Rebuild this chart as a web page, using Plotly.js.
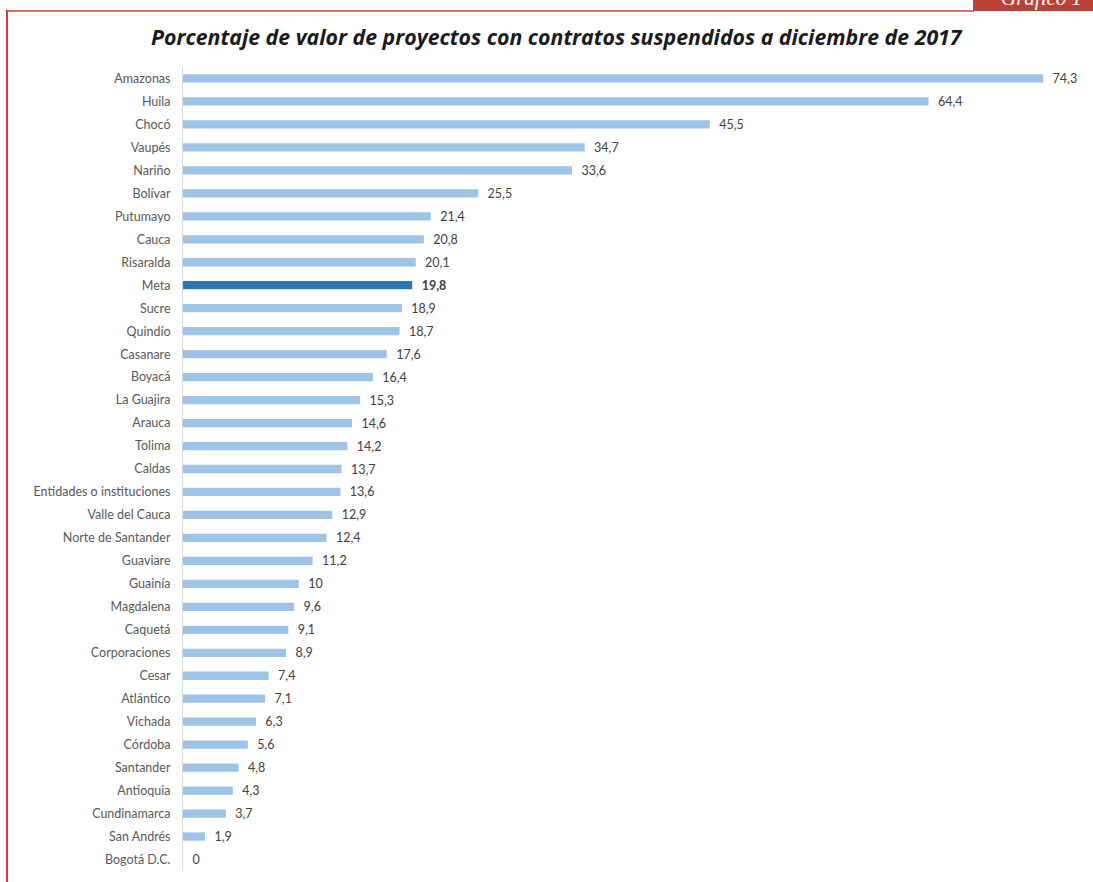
<!DOCTYPE html>
<html><head><meta charset="utf-8">
<script src="https://cdn.plot.ly/plotly-3.0.1.min.js"></script>
<style>
html,body{margin:0;padding:0;background:#fff;width:1093px;height:882px;overflow:hidden;}
#chart{position:absolute;left:0;top:0;width:1093px;height:882px;}
#topline{position:absolute;left:6px;top:10px;width:968px;height:2px;background:#d9736e;}
#leftline{position:absolute;left:6px;top:10px;width:2px;height:872px;background:#d93a36;}
#tag{position:absolute;left:973px;top:0;width:120px;height:11px;background:#be3f38;overflow:hidden;}
#tag span{position:absolute;left:28px;top:-14px;font-family:"Liberation Serif",serif;font-style:italic;font-size:21px;color:#fff;white-space:nowrap;}
</style></head>
<body>
<div id="chart"></div>
<div id="topline"></div>
<div id="leftline"></div>
<div id="tag"><span>Gráfico 1</span></div>
<script>
const categories = ["Amazonas","Huila","Chocó","Vaupés","Nariño","Bolívar","Putumayo","Cauca","Risaralda","Meta","Sucre","Quindío","Casanare","Boyacá","La Guajira","Arauca","Tolima","Caldas","Entidades o instituciones","Valle del Cauca","Norte de Santander","Guaviare","Guainía","Magdalena","Caquetá","Corporaciones","Cesar","Atlántico","Vichada","Córdoba","Santander","Antioquia","Cundinamarca","San Andrés","Bogotá D.C."];
const values = [74.3,64.4,45.5,34.7,33.6,25.5,21.4,20.8,20.1,19.8,18.9,18.7,17.6,16.4,15.3,14.6,14.2,13.7,13.6,12.9,12.4,11.2,10,9.6,9.1,8.9,7.4,7.1,6.3,5.6,4.8,4.3,3.7,1.9,0];
const highlight = "Meta";

const colors = categories.map(c => c === highlight ? "#2e75b6" : "#9dc3e6");
const texts = values.map((v,i) => {
  const s = String(v).replace(".", ",");
  return "\u00a0\u00a0" + (categories[i] === highlight ? "<b>" + s + "</b>" : s);
});

const trace = {
  type: "bar", orientation: "h",
  x: values, y: categories,
  marker: {color: colors},
  text: texts, textposition: "outside", cliponaxis: false, constraintext: "none",
  textfont: {family: "Lato, sans-serif", size: 12.5, color: "#404040"},
  hoverinfo: "skip"
};

const layout = {
  width: 1093, height: 882,
  margin: {l: 183, r: 7, t: 67, b: 11},
  paper_bgcolor: "rgba(0,0,0,0)", plot_bgcolor: "rgba(0,0,0,0)",
  bargap: 0.64,
  showlegend: false,
  title: {
    text: "<b><i>Porcentaje de valor de proyectos con contratos suspendidos a diciembre de 2017</i></b>",
    font: {family: "Open Sans, sans-serif", size: 21.3, color: "#1a1a1a"},
    x: 0.509, xanchor: "center", y: 0.957, yanchor: "middle"
  },
  xaxis: {range: [0, 78], showgrid: false, zeroline: false, showticklabels: false, showline: false, fixedrange: true},
  yaxis: {
    type: "category", categoryorder: "array", categoryarray: categories,
    range: [34.5, -0.5], showgrid: false, zeroline: false,
    showline: true, linecolor: "#d9d9d9", linewidth: 1,
    ticks: "", ticklabelstandoff: 9,
    tickfont: {family: "Lato, sans-serif", size: 12.5, color: "#595959"},
    fixedrange: true
  }
};

Plotly.newPlot("chart", [trace], layout, {displayModeBar: false, staticPlot: true});
</script>
</body></html>
